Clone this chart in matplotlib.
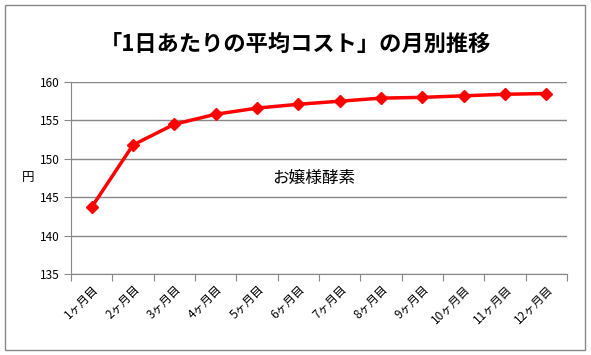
import matplotlib
matplotlib.use('Agg')
import matplotlib.pyplot as plt
from matplotlib.patches import Rectangle
import numpy as np

plt.rcParams['font.family'] = ['Noto Sans CJK JP', 'DejaVu Sans']

months = ['1ヶ月目', '2ヶ月目', '3ヶ月目', '4ヶ月目', '5ヶ月目', '6ヶ月目',
          '7ヶ月目', '8ヶ月目', '9ヶ月目', '10ヶ月目', '11ヶ月目', '12ヶ月目']
cost = [143.7, 151.8, 154.5, 155.8, 156.6, 157.1, 157.5, 157.9, 158.0, 158.2, 158.4, 158.5]
y_ticks = [135, 140, 145, 150, 155, 160]

fig = plt.figure(figsize=(5.91, 3.55), dpi=100)
ax = fig.add_axes([71 / 591, 1 - 274 / 355, (567 - 71) / 591, (274 - 82) / 355])

# outer chart border
fig.patches.append(Rectangle((5 / 591, 5 / 355), 580 / 591, 345 / 355, transform=fig.transFigure,
                             fill=False, edgecolor='#888888', linewidth=1))

x = np.arange(len(months))
ax.plot(x, cost, color='#ff0000', linewidth=2.5, marker='D', markersize=6, zorder=3)

ax.set_xlim(-0.5, len(months) - 0.5)
ax.set_ylim(135, 160)
ax.set_yticks(y_ticks)
ax.set_yticklabels([str(v) for v in y_ticks], fontsize=8.5)
ax.yaxis.grid(True, color='#888888', linewidth=1)
ax.set_axisbelow(True)

ax.set_xticks(np.arange(len(months) + 1) - 0.5)
ax.set_xticklabels([])
ax.set_xticks(x, minor=True)
ax.set_xticklabels(months, minor=True, rotation=45, ha='right', rotation_mode='anchor', fontsize=8.5)
ax.tick_params(axis='x', which='minor', length=0, pad=6)
ax.tick_params(axis='x', which='major', length=5, color='#888888')
ax.tick_params(axis='y', length=5, color='#888888', pad=3)

for side in ['top', 'right']:
    ax.spines[side].set_visible(False)
for side in ['left', 'bottom']:
    ax.spines[side].set_color('#888888')

ax.text(5.38, 147.5, 'お嬢様酵素', fontsize=12, ha='center', va='center')
fig.text(28 / 591, 1 - 178 / 355, '円', fontsize=9, ha='center', va='center')
fig.text(0.5, 1 - 44 / 355, '「1日あたりの平均コスト」の月別推移', fontsize=16, fontweight='bold',
         ha='center', va='center')

fig.savefig('out.png', dpi=100)
